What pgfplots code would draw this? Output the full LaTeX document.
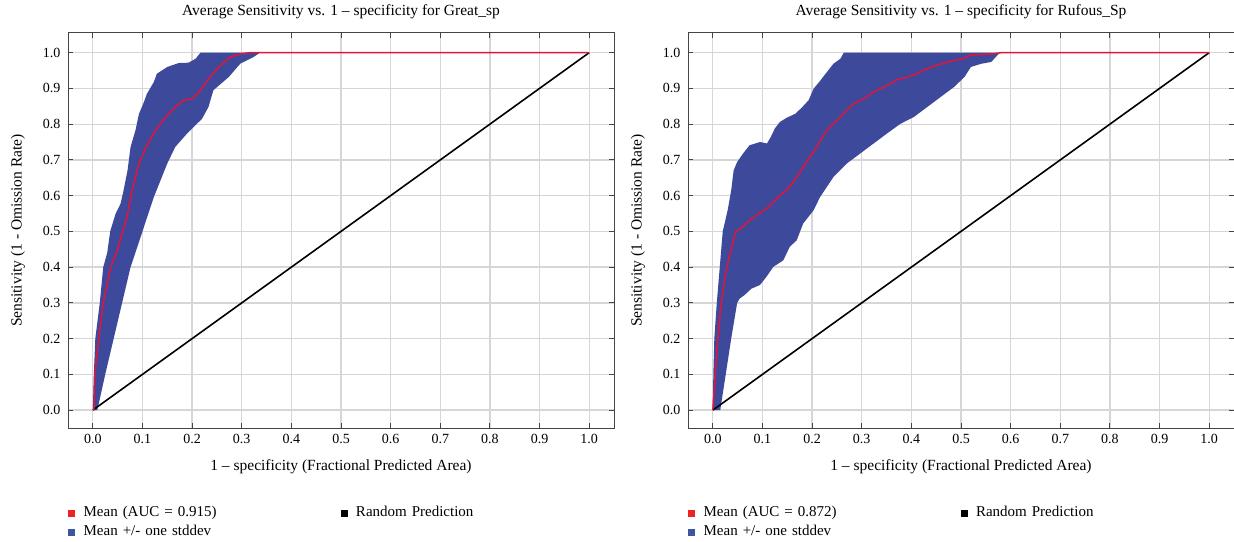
\documentclass[border=0pt]{standalone}
\usepackage{fontspec}
\setmainfont{Liberation Serif}
\usepackage{pgfplots}
\pgfplotsset{compat=1.18}
\definecolor{bandBlue}{HTML}{3D4A9B}
\definecolor{meanRed}{HTML}{E0143C}
\definecolor{legRed}{HTML}{EE2222}
\definecolor{legBlue}{HTML}{3B54A4}
\definecolor{gridGray}{HTML}{D6D6D6}
\definecolor{frameGray}{HTML}{454545}

\pgfplotsset{
  rocaxis/.style={
    scale only axis,
    width=546pt, height=395pt,
    xmin=-0.05, xmax=1.05,
    ymin=-0.05, ymax=1.055,
    xtick={0,0.1,...,1.01}, ytick={0,0.1,...,1.01},
    xticklabel style={/pgf/number format/fixed,/pgf/number format/fixed zerofill,/pgf/number format/precision=1, yshift=-3pt},
    yticklabel style={/pgf/number format/fixed,/pgf/number format/fixed zerofill,/pgf/number format/precision=1, xshift=-4pt},
    /pgf/number format/assume math mode=true,
    tick label style={font=\fontsize{14}{16}\selectfont},
    grid=major,
    grid style={draw=gridGray, line width=1.3pt},
    axis line style={draw=frameGray, line width=1pt},
    tick align=inside,
    major tick length=5pt,
    tick style={draw=frameGray, line width=0.9pt},
    title style={font=\fontsize{15.5}{17}\selectfont, at={(axis description cs:0.5,1)}, anchor=south, yshift=5pt},
    label style={font=\fontsize{15.5}{17}\selectfont},
    xlabel style={at={(axis description cs:0.5,0)}, anchor=center, yshift=-39pt},
    ylabel style={at={(axis description cs:-0.0916,0.5)}, anchor=center, rotate=0},
    legend style={at={(axis description cs:0,0)}, anchor=north west, yshift=-73pt, xshift=-3pt,
      draw=none, fill=none, legend columns=2, font=\fontsize{15}{17}\selectfont,
      nodes={text width=255pt, align=left, text height=11pt, text depth=4pt}, row sep=0pt},
    legend cell align=left,
    legend image code/.code={\fill[#1] (0pt,-3pt) rectangle (6pt,3pt); \path (13pt,0pt);},
  }
}

\begin{document}
\begin{tikzpicture}
\useasboundingbox (0,0) rectangle (1234pt,541pt);

% ---------- left: Great_sp ----------
\begin{axis}[rocaxis, at={(68pt,113pt)}, anchor=south west,
  title={Average Sensitivity vs. 1 – specificity for Great\_sp},
  xlabel={1 – specificity (Fractional Predicted Area)},
  ylabel={Sensitivity (1 - Omission Rate)}]
  \addplot[forget plot, fill=bandBlue, draw=none] coordinates {
    (0,0) (0.002,0.1) (0.005,0.2) (0.014,0.3) (0.021,0.4) (0.029,0.44) (0.035,0.5)
    (0.046,0.550) (0.056,0.578) (0.062,0.615) (0.070,0.671) (0.076,0.736)
    (0.086,0.783) (0.093,0.829) (0.103,0.862) (0.109,0.885) (0.123,0.918)
    (0.129,0.941) (0.150,0.960) (0.173,0.971) (0.193,0.972) (0.207,0.983)
    (0.217,1.0) (0.337,1.0)
    (0.324,0.988) (0.297,0.969) (0.274,0.932) (0.243,0.895) (0.233,0.848)
    (0.220,0.815) (0.190,0.774) (0.166,0.736) (0.150,0.690) (0.123,0.596)
    (0.100,0.5) (0.076,0.4) (0.059,0.3) (0.042,0.2) (0.025,0.1) (0.009,0)
  } -- cycle;
  \addplot[forget plot, black, line width=1.6pt] coordinates {(0,0) (1,1)};
  \addplot[forget plot, meanRed, line width=1.5pt] coordinates {
    (0.002,0) (0.004,0.1) (0.012,0.2) (0.021,0.3) (0.036,0.4) (0.050,0.45)
    (0.060,0.5) (0.069,0.541) (0.079,0.615) (0.093,0.690)
    (0.109,0.741) (0.129,0.788) (0.150,0.825) (0.166,0.848) (0.183,0.867)
    (0.200,0.871) (0.217,0.895) (0.233,0.927) (0.254,0.960) (0.277,0.988)
    (0.300,0.997) (0.317,1.0) (0.337,1.0) (1,1)
  };
  \addlegendimage{legRed}
  \addlegendentry{Mean (AUC = 0.915)}
  \addlegendimage{black}
  \addlegendentry{Random Prediction}
  \addlegendimage{legBlue}
  \addlegendentry{Mean +/- one stddev}
\end{axis}

% ---------- right: Rufous_Sp ----------
\begin{axis}[rocaxis, at={(688pt,113pt)}, anchor=south west,
  title={Average Sensitivity vs. 1 – specificity for Rufous\_Sp},
  xlabel={1 – specificity (Fractional Predicted Area)},
  ylabel={Sensitivity (1 - Omission Rate)}]
  \addplot[forget plot, fill=bandBlue, draw=none] coordinates {
    (0,0) (0.001,0.1) (0.003,0.2) (0.008,0.3) (0.014,0.4) (0.020,0.5) (0.030,0.56)
    (0.037,0.615) (0.042,0.671) (0.049,0.694) (0.061,0.718) (0.074,0.741) (0.095,0.750)
    (0.109,0.746) (0.116,0.762) (0.125,0.788) (0.135,0.806) (0.149,0.818)
    (0.166,0.829) (0.179,0.846) (0.193,0.867) (0.203,0.899) (0.216,0.921)
    (0.230,0.946) (0.243,0.969) (0.257,0.983) (0.264,1.0) (0.578,1.0)
    (0.561,0.974) (0.541,0.969) (0.520,0.960) (0.507,0.932) (0.486,0.904)
    (0.459,0.876) (0.432,0.848) (0.405,0.820) (0.378,0.801) (0.351,0.774)
    (0.324,0.746) (0.297,0.718) (0.270,0.690) (0.243,0.652) (0.216,0.596)
    (0.203,0.559) (0.182,0.522) (0.169,0.475) (0.155,0.457) (0.142,0.419)
    (0.122,0.401) (0.108,0.373) (0.095,0.350) (0.078,0.340) (0.064,0.322)
    (0.054,0.312) (0.049,0.3) (0.037,0.2) (0.026,0.1) (0.015,0)
  } -- cycle;
  \addplot[forget plot, black, line width=1.6pt] coordinates {(0,0) (1,1)};
  \addplot[forget plot, meanRed, line width=1.5pt] coordinates {
    (0,0) (0.005,0.1) (0.010,0.2) (0.017,0.3) (0.028,0.4) (0.046,0.5) (0.054,0.505)
    (0.074,0.531) (0.088,0.545) (0.108,0.564)
    (0.122,0.582) (0.135,0.601) (0.149,0.615) (0.162,0.638) (0.172,0.657)
    (0.182,0.680) (0.193,0.704) (0.203,0.722) (0.213,0.746) (0.223,0.769)
    (0.233,0.788) (0.243,0.801) (0.257,0.820) (0.270,0.839) (0.284,0.857)
    (0.304,0.871) (0.324,0.890) (0.345,0.904) (0.358,0.913) (0.372,0.925)
    (0.392,0.932) (0.412,0.941) (0.426,0.952) (0.446,0.962) (0.473,0.974)
    (0.503,0.983) (0.520,0.993) (0.541,0.995) (0.568,0.997) (0.581,1.0) (1,1)
  };
  \addlegendimage{legRed}
  \addlegendentry{Mean (AUC = 0.872)}
  \addlegendimage{black}
  \addlegendentry{Random Prediction}
  \addlegendimage{legBlue}
  \addlegendentry{Mean +/- one stddev}
\end{axis}
\end{tikzpicture}
\end{document}
